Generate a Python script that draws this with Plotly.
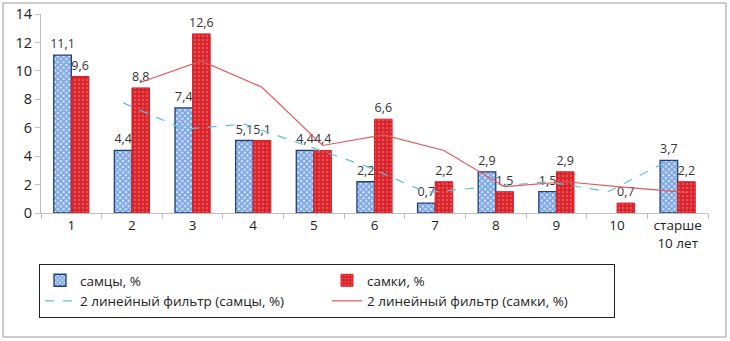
import plotly.graph_objects as go

categories = ["1", "2", "3", "4", "5", "6", "7", "8", "9", "10", "старше<br>10 лет"]
males = [11.1, 4.4, 7.4, 5.1, 4.4, 2.2, 0.7, 2.9, 1.5, None, 3.7]
females = [9.6, 8.8, 12.6, 5.1, 4.4, 6.6, 2.2, 1.5, 2.9, 0.7, 2.2]
# 2-period moving-average trend lines as drawn in the picture (from the 2nd category)
males_ma = [None, 7.75, 5.9, 6.25, 4.75, 3.3, 1.45, 1.8, 2.2, 1.5, 3.7]
females_ma = [None, 9.2, 10.7, 8.85, 4.75, 5.5, 4.4, 1.85, 2.2, 1.8, 1.45]

idx = list(range(len(categories)))
bargap = 0.42
bar_w = (1 - bargap) / 2
x_m = [i - bar_w / 2 for i in idx]
x_f = [i + bar_w / 2 for i in idx]

FONT = "Open Sans"
fig = go.Figure()
fig.add_trace(go.Bar(
    x=idx, y=males, name="самцы, %",
    marker=dict(color="white", line=dict(color="#1f3f77", width=1.3),
                pattern=dict(shape="x", fgcolor="#1a62cc", bgcolor="#e4eefc", size=4, solidity=0.75)),
    texttemplate="%{y:.1f}", textposition="outside", constraintext="none",
    textfont=dict(size=12.5, color="#333333", family=FONT), cliponaxis=False,
))
fig.add_trace(go.Bar(
    x=idx, y=females, name="самки, %",
    marker=dict(color="#d9222a", line=dict(color="#d9222a", width=1),
                pattern=dict(shape=".", fgcolor="#ee7b7b", bgcolor="#d9222a", size=4, solidity=0.3)),
    texttemplate="%{y:.1f}", textposition="outside", constraintext="none",
    textfont=dict(size=12.5, color="#333333", family=FONT), cliponaxis=False,
))
fig.add_trace(go.Scatter(
    x=x_m, y=males_ma, mode="lines", name="2 линейный фильтр (самцы, %)",
    line=dict(color="#5bc0de", width=1.2, dash="dash"),
))
fig.add_trace(go.Scatter(
    x=x_f, y=females_ma, mode="lines", name="2 линейный фильтр (самки, %)",
    line=dict(color="#e05a5a", width=1.2),
))

L, R, T, B = 41, 22, 14, 128
W, H = 730, 341
pw, ph = W - L - R, H - T - B

def px(x):
    return (x - L) / pw

def py(y):
    return (H - B - y) / ph

fig.update_layout(
    width=W, height=H,
    margin=dict(l=L, r=R, t=T, b=B, autoexpand=False),
    paper_bgcolor="white", plot_bgcolor="white",
    barmode="group", bargap=bargap, bargroupgap=0,
    separators=", ",
    font=dict(family=FONT, size=13, color="#222222"),
    showlegend=True,
    legend=dict(
        orientation="h", xref="container", yref="container",
        x=39 / W, y=1 - 264 / H, xanchor="left", yanchor="top",
        entrywidth=242, entrywidthmode="pixels",
        bordercolor="#222222", borderwidth=1,
        font=dict(size=13.5, family=FONT), traceorder="normal",
        itemwidth=30,
    ),
    xaxis=dict(
        range=[-0.5, len(categories) - 0.5], automargin=False,
        tickmode="array", tickvals=idx, ticktext=categories,
        ticks="", showgrid=False, zeroline=False,
        showline=True, linecolor="#bfbfbf", linewidth=1,
        tickfont=dict(size=13.5, family=FONT),
        minor=dict(tickmode="array", tickvals=[i - 0.5 for i in idx] + [len(idx) - 0.5],
                   ticks="outside", ticklen=5, tickcolor="#bfbfbf", showgrid=False),
    ),
    yaxis=dict(
        range=[0, 14], dtick=2, showgrid=False, zeroline=False, automargin=False,
        showline=True, linecolor="#bfbfbf", linewidth=1,
        ticks="outside", ticklen=5, tickcolor="#bfbfbf",
        tickfont=dict(size=14.5, family=FONT),
    ),
    shapes=[dict(type="rect", xref="paper", yref="paper",
                 x0=px(3), x1=px(726), y0=py(337), y1=py(3),
                 line=dict(color="#9a9a9a", width=1), layer="below")],
)

fig.write_html("out.html", config={"displayModeBar": False},
               post_script="document.body.style.margin='0';document.body.style.overflow='hidden';")
